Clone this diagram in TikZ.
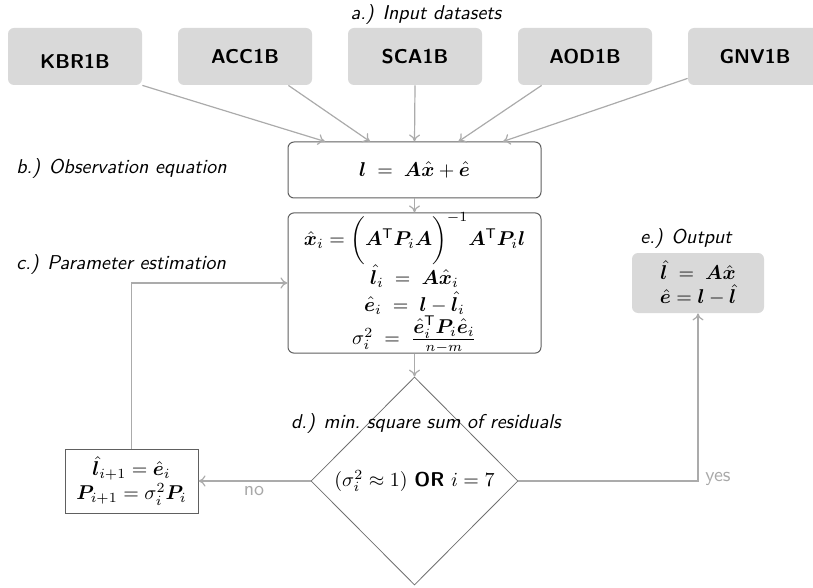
\documentclass[tikz,border=0pt]{standalone}
\usepackage{amsmath,bm}
\renewcommand{\familydefault}{\sfdefault}
\usetikzlibrary{shapes.geometric,arrows.meta}
\definecolor{boxgray}{HTML}{D9D9D9}
\definecolor{linegray}{HTML}{ABABAB}
\definecolor{bordergray}{HTML}{606060}
\definecolor{labelgray}{HTML}{A8A8A8}
\begin{document}
\begin{tikzpicture}[x=0.5pt,y=-0.5pt,
  databox/.style={fill=boxgray,rounded corners=3pt,minimum width=67pt,minimum height=28.5pt,inner sep=0pt,font=\bfseries},
  eqbox/.style={draw=bordergray,line width=0.5pt,rounded corners=3pt,fill=white,inner sep=0pt,align=center},
  outbox/.style={fill=boxgray,rounded corners=3pt,inner sep=0pt,align=center,minimum width=66pt,minimum height=30pt},
  plainbox/.style={draw=bordergray,line width=0.5pt,inner sep=0pt,align=center,minimum width=66.5pt,minimum height=32pt},
  decide/.style={diamond,draw=bordergray!90,line width=0.4pt,aspect=1,inner sep=0pt,minimum width=103.5pt,minimum height=104pt},
  stagelabel/.style={font=\itshape,inner sep=0pt},
  answer/.style={text=labelgray,inner sep=0pt},
  conn/.style={draw=linegray,line width=0.6pt},
  arr/.style={conn,-{To[length=3.5pt,width=5.5pt]}}]
\useasboundingbox (0,0) rectangle (813,588);

% a.) inputs
\node[stagelabel] (la) at (426,15) {a.) Input datasets};
\node[databox] (kbr) at (75,56.5) {\raisebox{-2.5pt}[\height][\depth]{KBR1B}};
\node[databox] (acc) at (245,56.5) {ACC1B};
\node[databox] (sca) at (415,56.5) {SCA1B};
\node[databox] (aod) at (585,56.5) {AOD1B};
\node[databox] (gnv) at (755,56.5) {GNV1B};

% b.) observation equation
\node[stagelabel,anchor=west] (lb) at (16,169) {b.) Observation equation};
\node[eqbox,minimum width=126.5pt,minimum height=28pt] (obs) at (414.5,170)
  {$\bm{l} \;=\; \bm{A}\hat{\bm{x}} + \hat{\bm{e}}$};

% c.) parameter estimation
\node[stagelabel,anchor=west] (lc) at (16,265) {c.) Parameter estimation};
\node[eqbox,minimum width=126.5pt,minimum height=70pt] (est) at (414.5,283)
  {$\hat{\bm{x}}_i = \bigg(\bm{A}^{\mathsf{T}}\bm{P}_i\bm{A}\bigg)^{-1}\bm{A}^{\mathsf{T}}\bm{P}_i\bm{l}$\\[-1pt]
   $\hat{\bm{l}}_i \;=\; \bm{A}\hat{\bm{x}}_i$\\[1.5pt]
   $\hat{\bm{e}}_i \;=\; \bm{l} - \hat{\bm{l}}_i$\\[0pt]
   $\sigma_i^2 \;=\; \frac{\textstyle\hat{\bm{e}}_i^{\mathsf{T}}\bm{P}_i\hat{\bm{e}}_i}{n-m}$};

% d.) decision
\node[decide] (dec) at (414.5,481) {};
\node[inner sep=0pt] (dectext) at (414.5,481) {$(\sigma_i^2 \approx 1)$ \textbf{OR} $i = 7$};
\node[stagelabel] (ld) at (426,423) {d.) min.\ square sum of residuals};

% update box
\node[plainbox] (upd) at (131.5,481)
  {$\hat{\bm{l}}_{i+1} = \hat{\bm{e}}_i$\\ $\bm{P}_{i+1} = \sigma_i^2\bm{P}_i$};

% e.) output
\node[stagelabel] (le) at (686,238) {e.) Output};
\node[outbox] (out) at (698,283)
  {$\hat{\bm{l}} \;=\; \bm{A}\hat{\bm{x}}$\\ $\hat{\bm{e}} = \bm{l} - \hat{\bm{l}}$};

\node[answer] (no) at (254,491) {no};
\node[answer] (yes) at (718,479) {yes};

% connectors
\draw[arr] (kbr.south east) -- ([xshift=-44.75pt]obs.north);
\draw[arr] ([xshift=-12pt]acc.south east) -- ([xshift=-22.25pt]obs.north);
\draw[arr] (sca.south) -- (obs.north);
\draw[arr] ([xshift=12pt]aod.south west) -- ([xshift=22pt]obs.north);
\draw[arr] ([yshift=3.5pt]gnv.south west) -- ([xshift=44.25pt]obs.north);
\draw[arr] (obs.south) -- (est.north);
\draw[arr] (est.south) -- (dec.north);
\draw[arr] (dec.west) -- (upd.east);
\draw[arr] (upd.north) |- (est.west);
\draw[arr] (dec.east) -| (out.south);
\end{tikzpicture}
\end{document}
